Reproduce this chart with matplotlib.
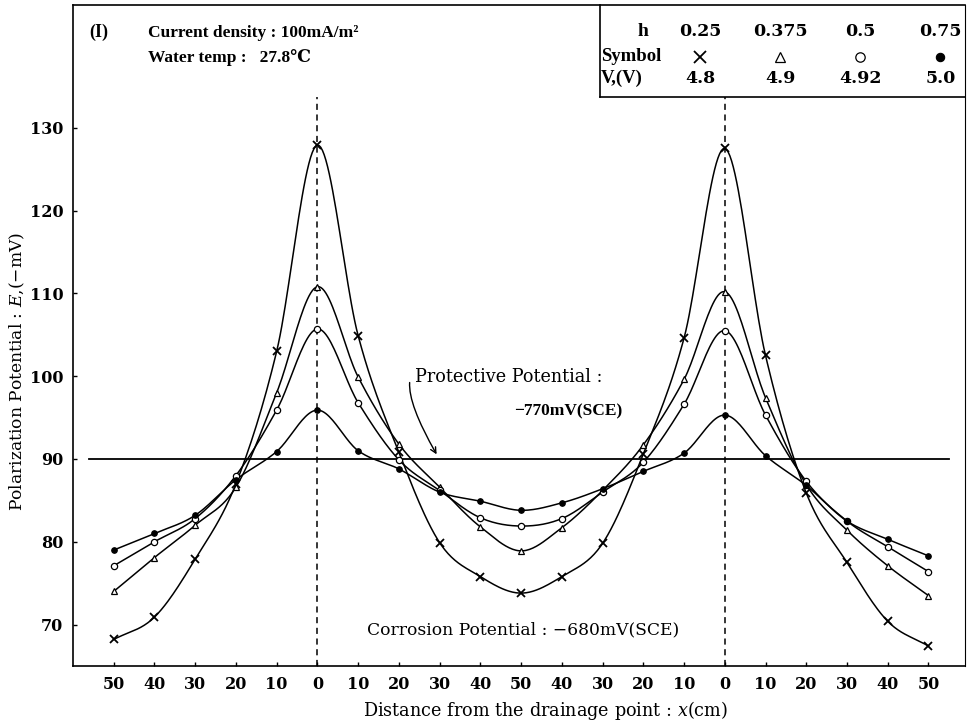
import numpy as np
import matplotlib
matplotlib.use("Agg")
import matplotlib.pyplot as plt

plt.rcParams['font.family'] = ['DejaVu Serif']
plt.rcParams['mathtext.fontset'] = 'dejavuserif'

LIB = ['Liberation Serif', 'DejaVu Serif']

# ---- data ----
x_labels = [50, 40, 30, 20, 10, 0, 10, 20, 30, 40, 50, 40, 30, 20, 10, 0, 10, 20, 30, 40, 50]
h_values = ["0.25", "0.375", "0.5", "0.75"]
v_values = ["4.8", "4.9", "4.92", "5.0"]
s_h025 = [68.2, 70.9, 77.9, 87.0, 103.0, 127.9, 104.9, 90.8, 79.9, 75.8, 73.8,
          75.8, 79.8, 90.6, 104.6, 127.5, 102.5, 85.9, 77.5, 70.4, 67.4]
s_h0375 = [74.0, 78.1, 82.0, 86.6, 98.0, 110.8, 99.9, 91.8, 86.6, 81.8, 78.9,
           81.7, 86.2, 91.7, 99.6, 110.2, 97.4, 86.9, 81.4, 77.1, 73.5]
s_h05 = [77.1, 80.0, 82.8, 88.0, 95.9, 105.7, 96.8, 89.9, 86.2, 82.9, 81.9,
         82.8, 86.0, 89.6, 96.6, 105.5, 95.3, 87.3, 82.5, 79.4, 76.4]
s_h075 = [79.0, 81.0, 83.2, 87.5, 90.9, 95.9, 91.0, 88.8, 86.0, 84.9, 83.8,
          84.7, 86.4, 88.5, 90.7, 95.3, 90.4, 86.8, 82.5, 80.3, 78.3]
protective = 90
drain_points = [5, 15]


def catmull(y, n=24):
    y = np.asarray(y, float)
    x = np.arange(len(y), dtype=float)
    P = np.concatenate([[2 * y[0] - y[1]], y, [2 * y[-1] - y[-2]]])
    xs, ys = [], []
    t = np.linspace(0, 1, n, endpoint=False)
    for i in range(len(y) - 1):
        p0, p1, p2, p3 = P[i], P[i + 1], P[i + 2], P[i + 3]
        yy = 0.5 * ((2 * p1) + (-p0 + p2) * t + (2 * p0 - 5 * p1 + 4 * p2 - p3) * t ** 2
                    + (-p0 + 3 * p1 - 3 * p2 + p3) * t ** 3)
        xs.append(x[i] + t)
        ys.append(yy)
    xs.append([x[-1]])
    ys.append([y[-1]])
    return np.concatenate(xs), np.concatenate(ys)


def px(p):
    # horizontal pixel position -> data x
    return (p - 114) / 40.7


def py(p):
    # vertical pixel position -> data y
    return 130 + (128 - p) / 8.28


fig = plt.figure(figsize=(9.69, 7.25), dpi=100)
ax = fig.add_axes([0.0753, 0.0814, 0.9207, 0.912])
ax.set_xlim(-1.0, 20.9)
ax.set_ylim(65, 144.85)

idx = np.arange(len(x_labels))
series = [
    (s_h025, dict(marker='x', ms=6, mew=1.3, mfc='k', mec='k')),
    (s_h0375, dict(marker='^', ms=4.5, mew=0.9, mfc='white', mec='k')),
    (s_h05, dict(marker='o', ms=4.5, mew=0.9, mfc='white', mec='k')),
    (s_h075, dict(marker='o', ms=4, mew=0.8, mfc='k', mec='k')),
]
for vals, st in series:
    sx, sy = catmull(vals)
    ax.plot(sx, sy, color='k', lw=1.1, zorder=3)
    ax.plot(idx, vals, ls='none', zorder=4, **st)

# protective potential line
ax.plot([-0.6, 20.5], [protective, protective], color='k', lw=1.3, zorder=2)
# drainage point dashed lines
for d in drain_points:
    ax.plot([d, d], [65, 133.7], color='k', lw=1.1, ls=(0, (4, 3)), zorder=2)

ax.set_xticks(idx)
ax.set_xticklabels([str(v) for v in x_labels], fontsize=11.5, fontweight='bold')
ax.set_yticks([70, 80, 90, 100, 110, 120, 130])
ax.set_yticklabels(['70', '80', '90', '100', '110', '120', '130'], fontsize=11.5, fontweight='bold')
ax.tick_params(direction='in', length=3, width=1, pad=7)
for s in ax.spines.values():
    s.set_linewidth(1.2)
ax.spines['right'].set_linewidth(0.8)

ax.set_xlabel('Distance from the drainage point : $x$(cm)', fontsize=12.7)
ax.xaxis.set_label_coords((545 - 73) / 892, -0.05)
ax.set_ylabel('Polarization Potential : $E$,(−mV)', fontsize=12.3)
ax.yaxis.set_label_coords((27 - 73) / 892, (725 - 372 - 59) / 661)

# annotations
ax.text(px(90), py(33), '(I)', fontsize=13, fontweight='bold', va='center', family=LIB)
ax.text(px(148), py(33), 'Current density : 100mA/m²', fontsize=12.5, fontweight='bold',
        va='center', family=LIB)
ax.text(px(148), py(58), 'Water temp :   27.8℃', fontsize=12.5, fontweight='bold',
        va='center', family=LIB)

ax.text(px(415), py(377), 'Protective Potential :', fontsize=12.7, va='center')
ax.text(px(514), py(412), '−770mV(SCE)', fontsize=12.5, fontweight='bold', va='center',
        family=LIB)
ax.annotate('', xy=(px(438), py(457)), xytext=(px(410), py(380)),
            arrowprops=dict(arrowstyle='->', color='k', lw=1.0,
                            connectionstyle='angle3,angleA=-100,angleB=-60'))
ax.text(px(367), py(630), 'Corrosion Potential : −680mV(SCE)', fontsize=12.3, va='center')

# table (upper right)
tx0 = px(600)
ax.plot([tx0, tx0], [py(97), 144.85], color='k', lw=1.2, clip_on=False)
ax.plot([tx0, 20.9], [py(97), py(97)], color='k', lw=1.2, clip_on=False)
col_x = [px(700), px(780), px(860), px(940)]
row_y = [py(32), py(57), py(79)]
ax.text(px(643), row_y[0], 'h', fontsize=14, fontweight='bold', ha='center', va='center',
        family=LIB)
ax.text(px(601), row_y[1], 'Symbol', fontsize=13.5, fontweight='bold', ha='left', va='center',
        family=LIB)
ax.text(px(601), row_y[2], 'V,(V)', fontsize=13.5, fontweight='bold', ha='left', va='center',
        family=LIB)
for cx, hv, vv, (vals, st) in zip(col_x, h_values, v_values, series):
    ax.text(cx, row_y[0], hv, fontsize=12.5, fontweight='bold', ha='center', va='center')
    ax.text(cx, row_y[2], vv, fontsize=12.5, fontweight='bold', ha='center', va='center')
    st2 = dict(st)
    st2['ms'] = st2['ms'] * 1.5
    ax.plot([cx], [row_y[1]], ls='none', clip_on=False, **st2)

fig.savefig('out.png', dpi=100)
